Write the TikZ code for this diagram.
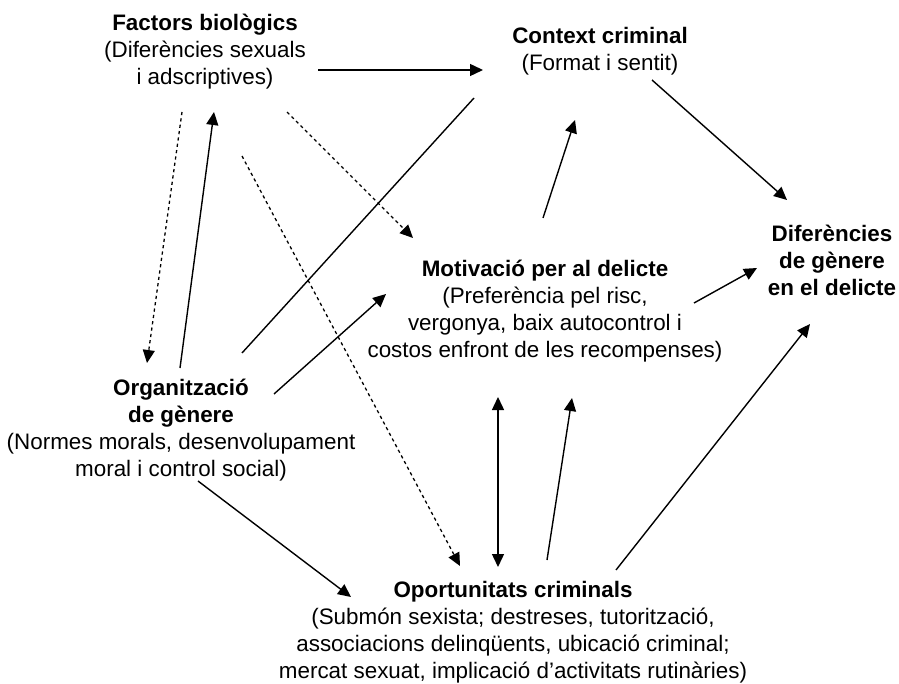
\documentclass[tikz,border=0pt]{standalone}
\usepackage{fontspec}
\setmainfont{Liberation Sans}
\usetikzlibrary{arrows.meta}
\tikzset{
  txt/.style={align=center,inner sep=0pt,font=\fontsize{11.2}{13.5}\selectfont},
  arr/.style={-{Triangle[length=6.5pt,width=6pt]},line width=0.7pt},
  darr/.style={{Triangle[length=6.5pt,width=6pt]}-{Triangle[length=6.5pt,width=6pt]},line width=0.7pt},
  dots/.style={arr,line width=0.65pt,dash pattern=on 1.6pt off 1.6pt},
  link/.style={line width=0.7pt},
}

\begin{document}
\begin{tikzpicture}[x=0.5pt,y=-0.5pt]
  \useasboundingbox (0,0) rectangle (899,684);

  % factors
  \node[txt] (fac) at (205,52) {\textbf{Factors biològics}\\(Diferències sexuals\\i adscriptives)};
  \node[txt] (ctx) at (600,51) {\textbf{Context criminal}\\(Format i sentit)};
  \node[txt] (mot) at (545,311) {\textbf{Motivació per al delicte}\\(Preferència pel risc,\\vergonya, baix autocontrol i\\costos enfront de les recompenses)};
  \node[txt] (dif) at (832,260) {\textbf{Diferències}\\\textbf{de gènere}\\\textbf{en el delicte}};
  \node[txt] (org) at (181,430) {\textbf{Organització}\\\textbf{de gènere}\\(Normes morals, desenvolupament\\moral i control social)};
  \node[txt] (opo) at (513,632) {\textbf{Oportunitats criminals}\\(Submón sexista; destreses, tutorització,\\associacions delinqüents, ubicació criminal;\\mercat sexuat, implicació d’activitats rutinàries)};

  % solid arrows
  \draw[arr] ([shift={(113,18)}]fac.center) -- ([shift={(-117,19)}]ctx.center);
  \draw[arr] ([shift={(-1,-62)}]org.center) -- ([shift={(9,60)}]fac.center);
  \draw[link] ([shift={(61,-77)}]org.center) -- ([shift={(-126,47)}]ctx.center);
  \draw[arr] ([shift={(93,-36)}]org.center) -- ([shift={(-159,-17)}]mot.center);
  \draw[arr] ([shift={(17,51)}]org.center) -- ([shift={(-162,-35)}]opo.center);
  \draw[darr] ([shift={(-47,86)}]mot.center) -- ([shift={(-15,-65)}]opo.center);
  \draw[arr] ([shift={(34,-72)}]opo.center) -- ([shift={(27,87)}]mot.center);
  \draw[arr] ([shift={(103,-62)}]opo.center) -- ([shift={(-22,64)}]dif.center);
  \draw[arr] ([shift={(-2,-93)}]mot.center) -- ([shift={(-25,69)}]ctx.center);
  \draw[arr] ([shift={(52,29)}]ctx.center) -- ([shift={(-45,-60)}]dif.center);
  \draw[arr] ([shift={(149,-8)}]mot.center) -- ([shift={(-75,8)}]dif.center);

  % dotted arrows
  \draw[dots] ([shift={(-23,60)}]fac.center) -- ([shift={(-34,-67)}]org.center);
  \draw[dots] ([shift={(82,60)}]fac.center) -- ([shift={(-132,-73)}]mot.center);
  \draw[dots] ([shift={(37,104)}]fac.center) -- ([shift={(-53,-66)}]opo.center);
\end{tikzpicture}
\end{document}
